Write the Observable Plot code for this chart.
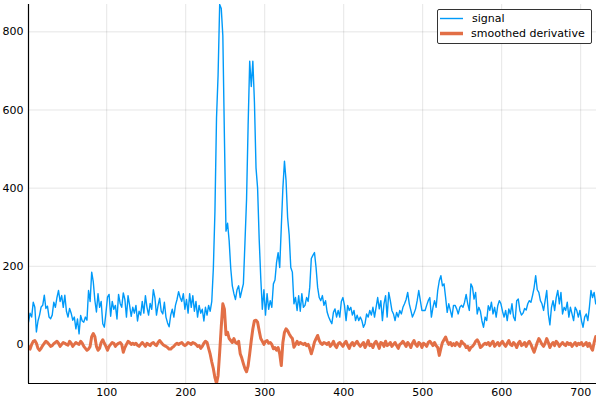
<!DOCTYPE html>
<html>
<head>
<meta charset="utf-8">
<script src="https://cdn.jsdelivr.net/npm/d3@7"></script>
<script src="https://cdn.jsdelivr.net/npm/@observablehq/plot@0.6"></script>
<style>
  html, body { margin: 0; padding: 0; background: #fff; }
  #chart { width: 600px; height: 400px; }
</style>
</head>
<body>
<div id="chart"></div>
<script>
// x positions: samples every 2 units starting at 1
const xStart = 1, xStep = 2;

// signal values, rows of 10 samples = 20 x-units
const signal = [
  57, 80, 70, 108, 95, 32, 60, 75, 96, 100,
  126, 92, 98, 70, 66, 75, 108, 95, 120, 138,
  110, 125, 95, 126, 85, 70, 92, 80, 62, 70,
  40, 65, 27, 74, 60, 57, 70, 62, 138, 110,
  185, 160, 113, 83, 130, 95, 110, 53, 44, 80,
  121, 128, 72, 110, 90, 100, 65, 128, 105, 95,
  132, 115, 70, 125, 100, 72, 95, 80, 100, 60,
  85, 75, 110, 80, 125, 95, 75, 105, 90, 140,
  120, 75, 100, 118, 85, 78, 108, 70, 55, 45,
  75, 90, 70, 100, 115, 135, 120, 110, 130, 90,
  115, 80, 130, 95, 125, 85, 110, 70, 100, 80,
  90, 60, 95, 75, 100, 85, 110, 195, 340, 580,
  690, 870, 860, 790, 530, 290, 310, 265, 195, 150,
  130, 115, 140, 150, 120, 138, 155, 260, 370, 560,
  725, 660, 725, 620, 452, 400, 270, 170, 90, 140,
  75, 130, 90, 112, 95, 155, 165, 210, 235, 197,
  300, 400, 469, 420, 325, 280, 197, 185, 104, 120,
  87, 125, 85, 130, 95, 100, 120, 110, 146, 220,
  228, 235, 197, 146, 120, 112, 125, 100, 112, 83,
  70, 61, 53, 82, 91, 70, 87, 70, 110, 120,
  100, 61, 100, 87, 95, 75, 87, 61, 75, 61,
  70, 61, 44, 53, 78, 70, 87, 75, 95, 70,
  95, 120, 91, 112, 61, 104, 125, 70, 133, 112,
  87, 78, 61, 82, 70, 87, 78, 95, 104, 115,
  133, 104, 87, 70, 80, 91, 112, 138, 112, 87,
  87, 87, 100, 112, 120, 70, 95, 112, 95, 138,
  163, 176, 150, 155, 120, 82, 104, 87, 70, 100,
  100, 91, 78, 95, 100, 95, 108, 128, 104, 87,
  155, 146, 116, 133, 78, 95, 85, 60, 44, 70,
  61, 99, 87, 108, 78, 95, 70, 99, 112, 104,
  85, 70, 87, 61, 91, 78, 104, 70, 61, 112,
  116, 87, 75, 80, 92, 88, 104, 112, 108, 125,
  145, 176, 140, 133, 112, 104, 87, 112, 138, 78,
  50, 95, 112, 87, 120, 138, 104, 133, 78, 95,
  87, 108, 70, 95, 78, 61, 95, 87, 70, 87,
  60, 44, 70, 78, 61, 95, 138, 120, 133, 104
];

// smoothed derivative values, same x positions
const derivative = [
  -5, -12, 0, 8, 10, 3, -10, -15, -10, -3,
  3, 8, 5, 0, -5, -3, 2, 5, 8, 3,
  -5, 0, 5, 3, 0, -2, 8, 3, -5, 0,
  5, 2, 0, 8, 3, -5, -10, -15, -12, -5,
  20, 28, 20, -5, -15, -10, 5, 12, 3, -5,
  -15, -5, 0, 5, 3, -5, 0, 3, 5, 0,
  -20, -8, 0, 8, 5, 0, 3, 0, 3, -2,
  -5, 0, 5, 0, -5, 3, 0, -3, 3, 5,
  0, -3, 5, 10, 5, 0, -3, -5, -8, -12,
  -12, -8, -5, 0, 3, 0, 3, 5, 0, -3,
  0, 5, 3, 0, 5, 3, 0, -5, -3, -10,
  -5, 3, 8, 5, -10, -25, -45, -62, -85, -100,
  -80, -20, 45, 104, 90, 25, 31, 15, 10, 5,
  15, 5, 2, 8, -24, -35, -49, -62, -70, -55,
  -24, 10, 40, 61, 62, 57, 35, 15, 8, 0,
  8, 10, 3, 5, 0, -11, -8, -15, -8, -24,
  -54, 5, 31, 40, 35, 27, 20, 15, -7, 0,
  8, 0, 5, 2, 0, 3, -3, 0, -10, -24,
  -10, 6, 15, 23, 10, 3, 0, 5, 3, 0,
  5, -5, 0, 8, -3, -8, 2, 5, 0, -5,
  3, 8, -2, -10, 0, 5, -3, 3, 8, 0,
  -5, 0, 5, -8, 0, 10, -3, 0, -8, 3,
  8, 0, -10, 5, 3, -5, 8, -3, 0, 5,
  -5, 0, 5, -3, -10, 0, 3, 8, 2, -5,
  5, 0, -8, 3, 10, 0, -5, 5, 2, -8,
  3, 0, -5, 5, 8, 3, -3, 5, -3, -8,
  -28, -10, 5, 12, 19, 8, 0, 5, -3, 2,
  -3, 5, 0, -5, 8, 3, 0, -8, -5, -15,
  -8, -5, 0, 8, 12, 5, -8, -5, 0, 3,
  0, 5, -3, 3, 8, -5, 0, 5, -3, 3,
  8, 0, -5, 3, 10, 0, -3, 5, 0, -8,
  3, 8, -3, 0, 5, -5, 3, 8, 0, -10,
  -20, -8, 5, 15, 8, 0, -5, 3, 15, 5,
  -8, 0, 5, -3, 8, 3, -5, 0, 5, 0,
  -3, 5, 0, 3, -5, 0, 5, -3, 3, 0,
  5, -3, 0, 5, -5, 3, -8, -15, 5, 20
];

const xTicks = [100, 200, 300, 400, 500, 600, 700];
const yTicks = [0, 200, 400, 600, 800];
const seriesNames = ["signal", "smoothed derivative"];
const seriesColors = ["#009af9", "#e26f46"];

const rows = [];
signal.forEach((v, i) => rows.push({x: xStart + i * xStep, y: v, s: seriesNames[0]}));
derivative.forEach((v, i) => rows.push({x: xStart + i * xStep, y: v, s: seriesNames[1]}));

const svg = Plot.plot({
  width: 600,
  height: 400,
  marginLeft: 28,
  marginRight: 4,
  marginTop: 4,
  marginBottom: 17,
  style: {fontFamily: "DejaVu Sans", fontSize: "11px", color: "#000", background: "#fff"},
  x: {domain: [1, 720], label: null},
  y: {domain: [-100, 870], label: null},
  marks: [
    Plot.gridX(xTicks, {stroke: "#000", strokeOpacity: 0.1}),
    Plot.gridY(yTicks, {stroke: "#000", strokeOpacity: 0.1}),
    Plot.axisX(xTicks, {tickSize: 0, tickPadding: 5, fontSize: 11}),
    Plot.axisY(yTicks, {tickSize: 0, tickPadding: 5, fontSize: 11}),
    Plot.line(rows.filter(d => d.s === seriesNames[0]), {x: "x", y: "y", stroke: seriesColors[0], strokeWidth: 1.4, clip: true}),
    Plot.line(rows.filter(d => d.s === seriesNames[1]), {x: "x", y: "y", stroke: seriesColors[1], strokeWidth: 3, clip: true}),
    Plot.ruleX([1], {stroke: "#000", strokeWidth: 1.2}),
    Plot.ruleY([-100], {stroke: "#000", strokeWidth: 1.2})
  ]
});

// legend box drawn into the svg, top-right
const g = d3.select(svg).append("g")
  .attr("font-family", "DejaVu Sans").attr("font-size", 11).attr("text-anchor", "start");
g.append("rect").attr("x", 437.5).attr("y", 9.5).attr("width", 154).attr("height", 34)
  .attr("rx", 1.5).attr("fill", "#fff").attr("stroke", "#333").attr("stroke-width", 1);
const legendRows = [{y: 18.5, w: 1.4}, {y: 33.5, w: 3.5}];
seriesNames.forEach((name, i) => {
  g.append("line").attr("x1", 440).attr("x2", 463).attr("y1", legendRows[i].y).attr("y2", legendRows[i].y)
    .attr("stroke", seriesColors[i]).attr("stroke-width", legendRows[i].w);
  g.append("text").attr("x", i === 0 ? 472 : 471).attr("y", legendRows[i].y).attr("dy", "0.35em")
    .attr("text-anchor", "start").attr("fill", "#000").text(name);
});

document.getElementById("chart").appendChild(svg);
</script>
</body>
</html>
